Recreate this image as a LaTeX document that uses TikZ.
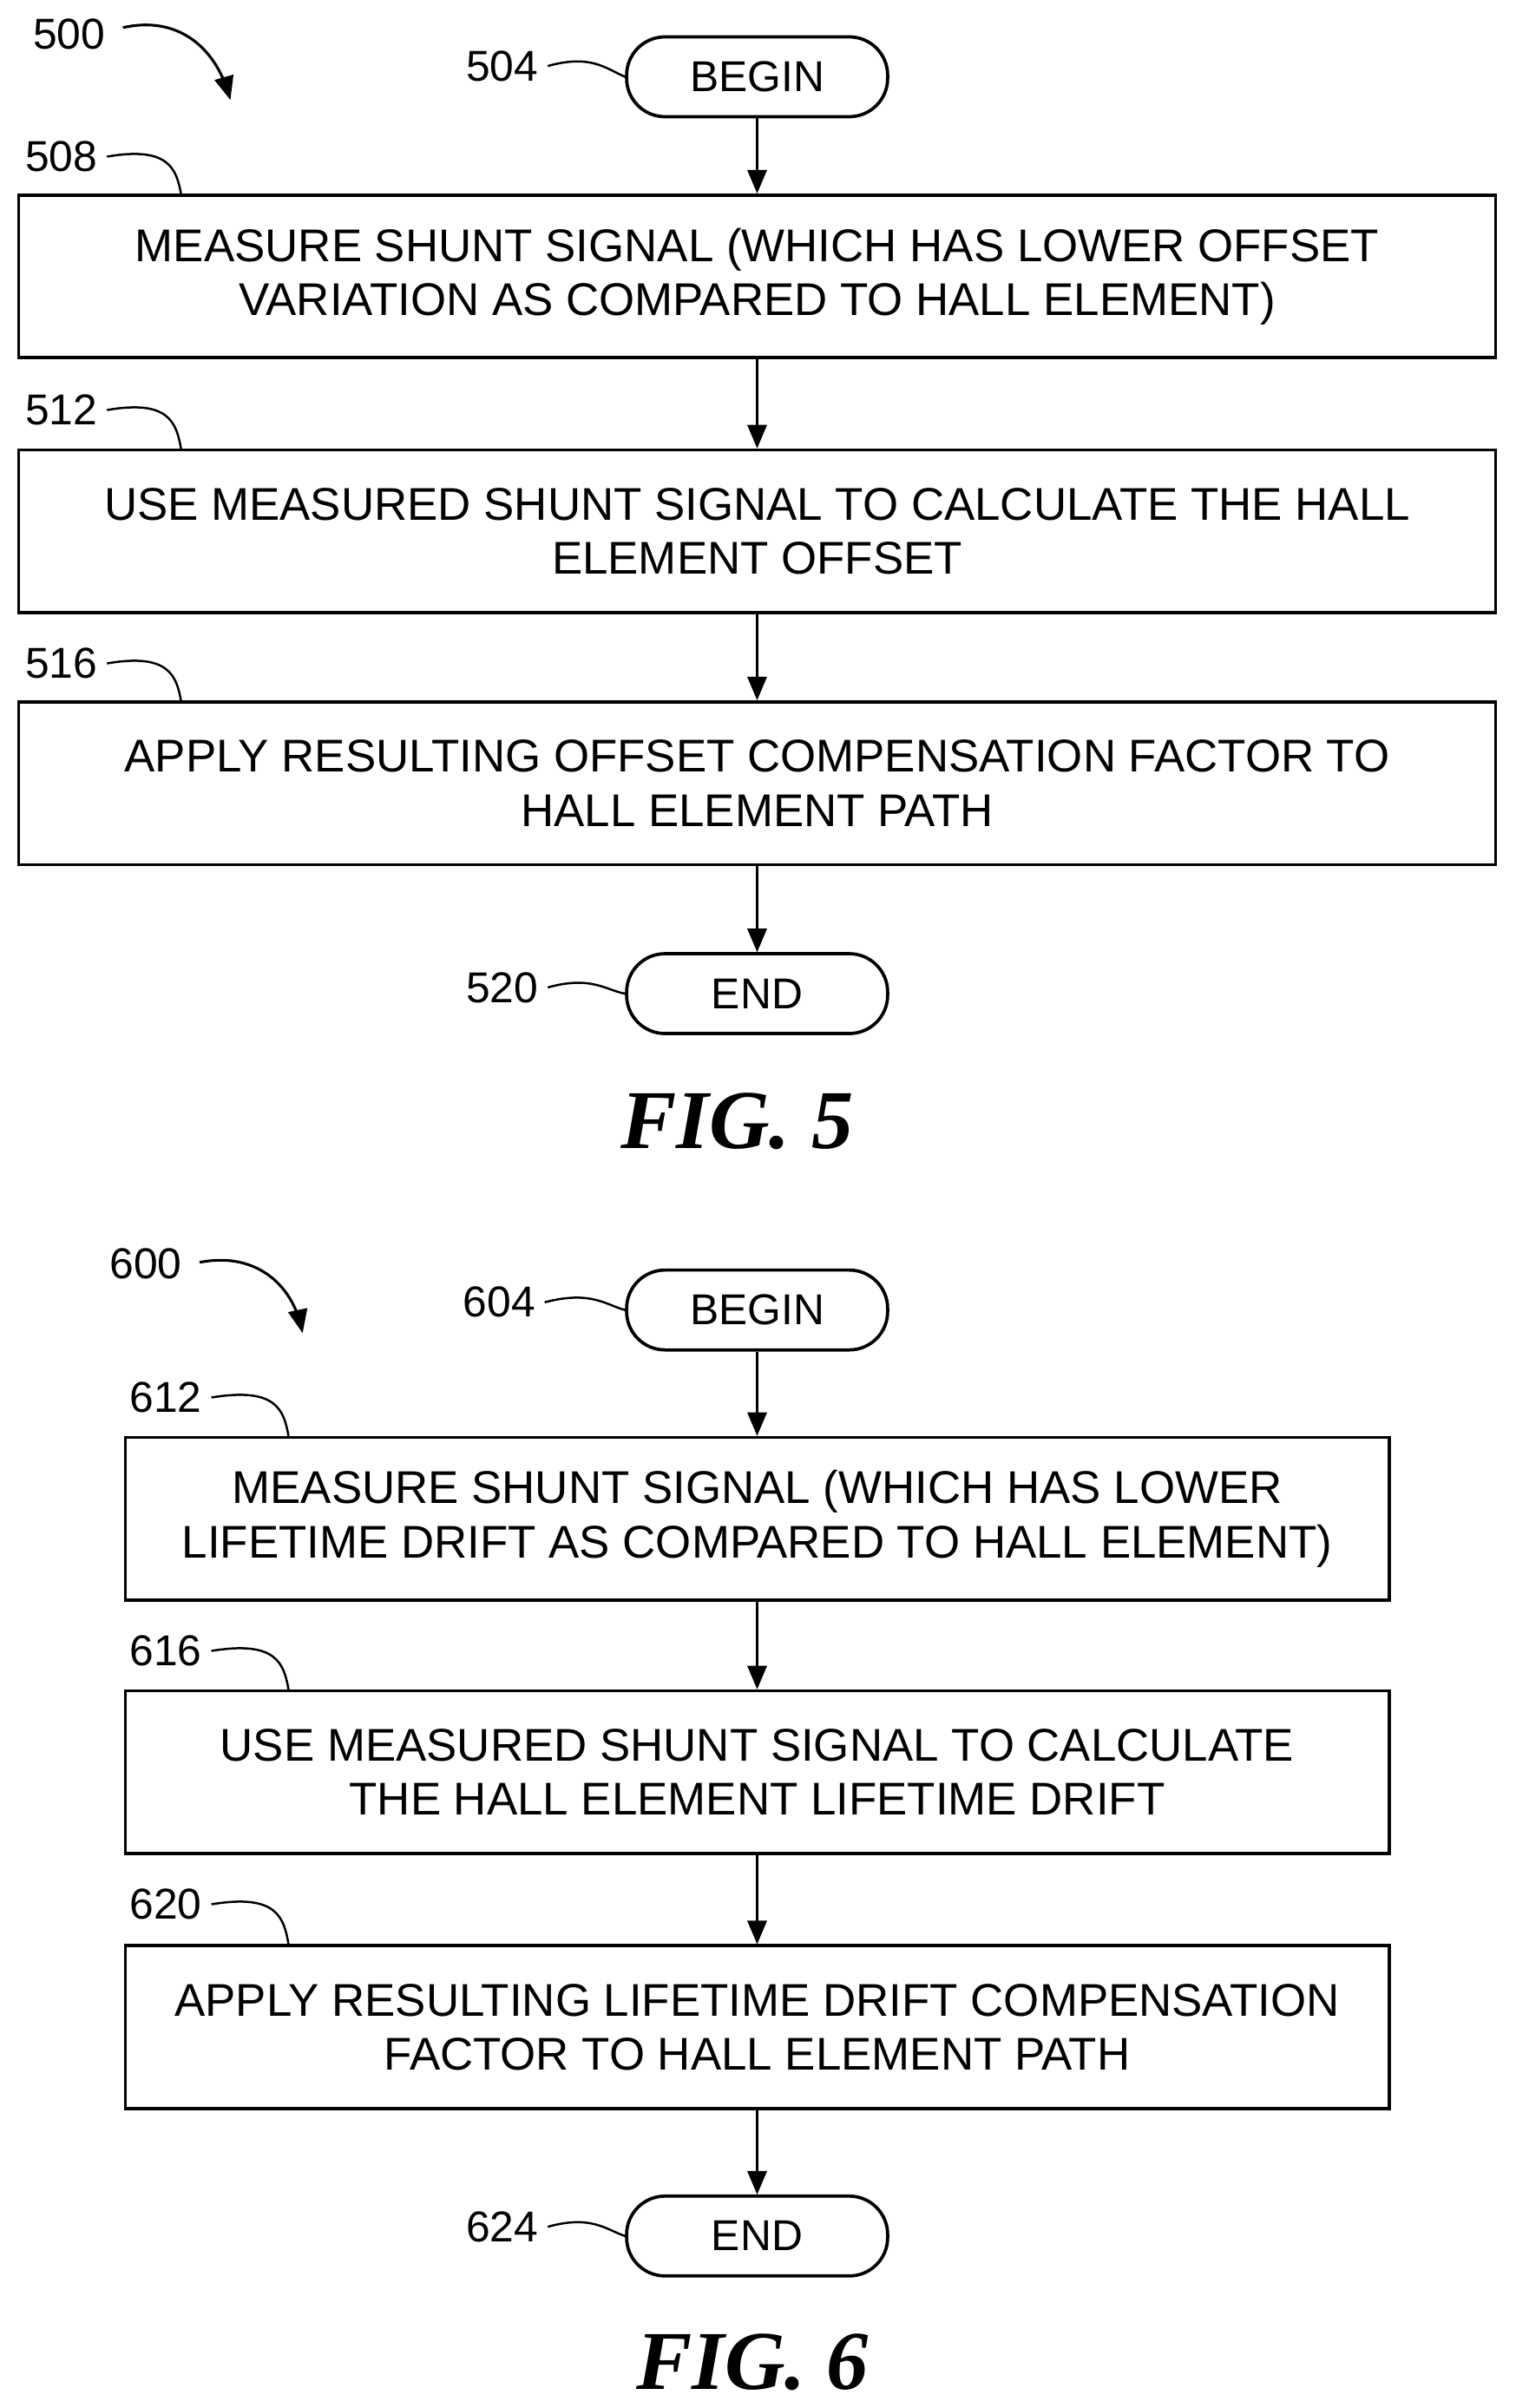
\documentclass[tikz,border=0pt]{standalone}
\usepackage{fontspec}
\setmainfont{Liberation Sans}
\newfontfamily\figfont{Liberation Serif}
\usetikzlibrary{shapes,arrows,positioning,calc}

\begin{document}
\begin{tikzpicture}[x=0.02cm,y=-0.02cm,
  term/.style={draw,line width=1.2pt,rounded corners=0.5cm,minimum width=3.4cm,minimum height=1.04cm,font=\fontsize{16}{19}\selectfont},
  proc/.style={draw,line width=1.2pt,minimum height=2.12cm,align=center,inner sep=0pt,font=\fontsize{17}{20}\selectfont},
  ref/.style={font=\fontsize{16}{19}\selectfont},
  flow/.style={-triangle 45,line width=1pt},
  lead/.style={line width=0.8pt}]
  \useasboundingbox (0,0) rectangle (987,1568);

  % FIG. 5
  \node[ref] (n500) at (45,22) {500};
  \draw[-triangle 45,line width=1pt] (80,18) .. controls (115,10) and (140,30) .. (150,65);
  \node[term] (b504) at (493,50) {BEGIN};
  \node[proc,minimum width=19.24cm] (s508) at (493,180) {MEASURE SHUNT SIGNAL (WHICH HAS LOWER OFFSET\\VARIATION AS COMPARED TO HALL ELEMENT)};
  \node[proc,minimum width=19.24cm] (s512) at (493,346) {USE MEASURED SHUNT SIGNAL TO CALCULATE THE HALL\\ELEMENT OFFSET};
  \node[proc,minimum width=19.24cm] (s516) at (493,510) {APPLY RESULTING OFFSET COMPENSATION FACTOR TO\\HALL ELEMENT PATH};
  \node[term] (e520) at (493,647) {END};
  \node[font=\figfont\bfseries\itshape\fontsize{31}{34}\selectfont] (fig5) at (480,730) {FIG. 5};

  \draw[flow] (b504) -- (s508);
  \draw[flow] (s508) -- (s512);
  \draw[flow] (s512) -- (s516);
  \draw[flow] (s516) -- (e520);

  % labels
  \node[ref] (n504) at (327,43) {504};
  \node[ref] (n508) at (40,102) {508};
  \node[ref] (n512) at (40,267) {512};
  \node[ref] (n516) at (40,432) {516};
  \node[ref] (n520) at (327,643) {520};
  \draw[lead] (n504.east) .. controls (385,35) and (395,45) .. (b504.west);
  \draw[lead] (n508.east) .. controls (110,95) and (115,110) .. (118,127);
  \draw[lead] (n512.east) .. controls (110,260) and (115,275) .. (118,293);
  \draw[lead] (n516.east) .. controls (110,425) and (115,440) .. (118,457);
  \draw[lead] (n520.east) .. controls (385,635) and (395,645) .. (e520.west);

  % FIG. 6
  \node[ref] (n600) at (95,823) {600};
  \draw[-triangle 45,line width=1pt] (130,822) .. controls (165,815) and (190,835) .. (197,868);
  \node[term] (b604) at (493,853) {BEGIN};
  \node[proc,minimum width=16.46cm] (s612) at (493,989) {MEASURE SHUNT SIGNAL (WHICH HAS LOWER\\LIFETIME DRIFT AS COMPARED TO HALL ELEMENT)};
  \node[proc,minimum width=16.46cm] (s616) at (493,1154) {USE MEASURED SHUNT SIGNAL TO CALCULATE\\THE HALL ELEMENT LIFETIME DRIFT};
  \node[proc,minimum width=16.46cm] (s620) at (493,1320) {APPLY RESULTING LIFETIME DRIFT COMPENSATION\\FACTOR TO HALL ELEMENT PATH};
  \node[term] (e624) at (493,1456) {END};
  \node[font=\figfont\bfseries\itshape\fontsize{31}{34}\selectfont] (fig6) at (490,1538) {FIG. 6};

  \draw[flow] (b604) -- (s612);
  \draw[flow] (s612) -- (s616);
  \draw[flow] (s616) -- (s620);
  \draw[flow] (s620) -- (e624);

  % labels
  \node[ref] (n604) at (325,848) {604};
  \node[ref] (n612) at (108,910) {612};
  \node[ref] (n616) at (108,1075) {616};
  \node[ref] (n620) at (108,1240) {620};
  \node[ref] (n624) at (327,1450) {624};
  \draw[lead] (n604.east) .. controls (385,840) and (395,850) .. (b604.west);
  \draw[lead] (n612.east) .. controls (180,903) and (185,918) .. (188,936);
  \draw[lead] (n616.east) .. controls (180,1068) and (185,1083) .. (188,1101);
  \draw[lead] (n620.east) .. controls (180,1233) and (185,1248) .. (188,1267);
  \draw[lead] (n624.east) .. controls (385,1442) and (395,1452) .. (e624.west);
\end{tikzpicture}
\end{document}
